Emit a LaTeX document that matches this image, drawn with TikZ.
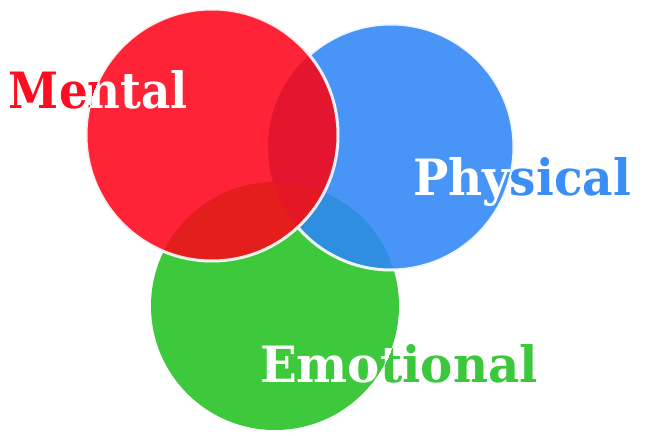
\documentclass[tikz,border=0pt]{standalone}
\usepackage{fontspec}
\setmainfont{DejaVu Serif}
\usepackage{graphicx}
\definecolor{rc}{RGB}{254,35,54}
\definecolor{rtxt}{RGB}{255,12,32}
\definecolor{bc}{RGB}{72,149,247}
\definecolor{btxt}{RGB}{58,142,245}
\definecolor{gc}{RGB}{62,201,61}
\definecolor{gtxt}{RGB}{60,200,60}
\definecolor{rbc}{RGB}{227,21,47}
\definecolor{rgc}{RGB}{227,30,28}
\definecolor{rbgc}{RGB}{227,24,36}
\definecolor{bgc}{RGB}{47,142,224}
\tikzset{
  lbl/.style={anchor=base west, inner sep=0pt, outer sep=0pt, font=\bfseries\fontsize{50}{52}\selectfont},
  rim/.style={draw=white, draw opacity=0.9, line width=3pt}
}
\newcommand\redC{(212,135) circle[radius=126pt]}
\newcommand\bluC{(391,147) circle[radius=123pt]}
\newcommand\grnC{(275,306) circle[radius=124pt]}
\begin{document}
\begin{tikzpicture}[x=1pt,y=-1pt]
\useasboundingbox (0,0) rectangle (649,436);
% green
\fill[gc] \grnC;
% blue
\fill[bc] \bluC;
\begin{scope}
  \clip \grnC;
  \fill[bgc] \bluC;
\end{scope}
\path[rim] \bluC;
% red
\fill[rc] \redC;
\begin{scope}
  \clip \redC;
  \fill[rbc] \bluC;
  \fill[rgc] \grnC;
  \clip \bluC;
  \fill[rbgc] \grnC;
\end{scope}
\path[rim] \redC;
% texts
\node[lbl, text=rtxt] (mental) at (9,109) {\resizebox{179pt}{\height}{Mental}};
\node[lbl, text=btxt] (physical) at (413,195) {\resizebox{218pt}{\height}{Physical}};
\node[lbl, text=gtxt] (emotional) at (260,382) {\resizebox{278pt}{\height}{Emotional}};
\begin{scope}
  \clip \redC;
  \node[lbl, text=white] (mentalW) at (9,109) {\resizebox{179pt}{\height}{Mental}};
\end{scope}
\begin{scope}
  \clip \bluC;
  \node[lbl, text=white] (physicalW) at (413,195) {\resizebox{218pt}{\height}{Physical}};
\end{scope}
\begin{scope}
  \clip \grnC;
  \node[lbl, text=white] (emotionalW) at (260,382) {\resizebox{278pt}{\height}{Emotional}};
\end{scope}
\end{tikzpicture}
\end{document}
